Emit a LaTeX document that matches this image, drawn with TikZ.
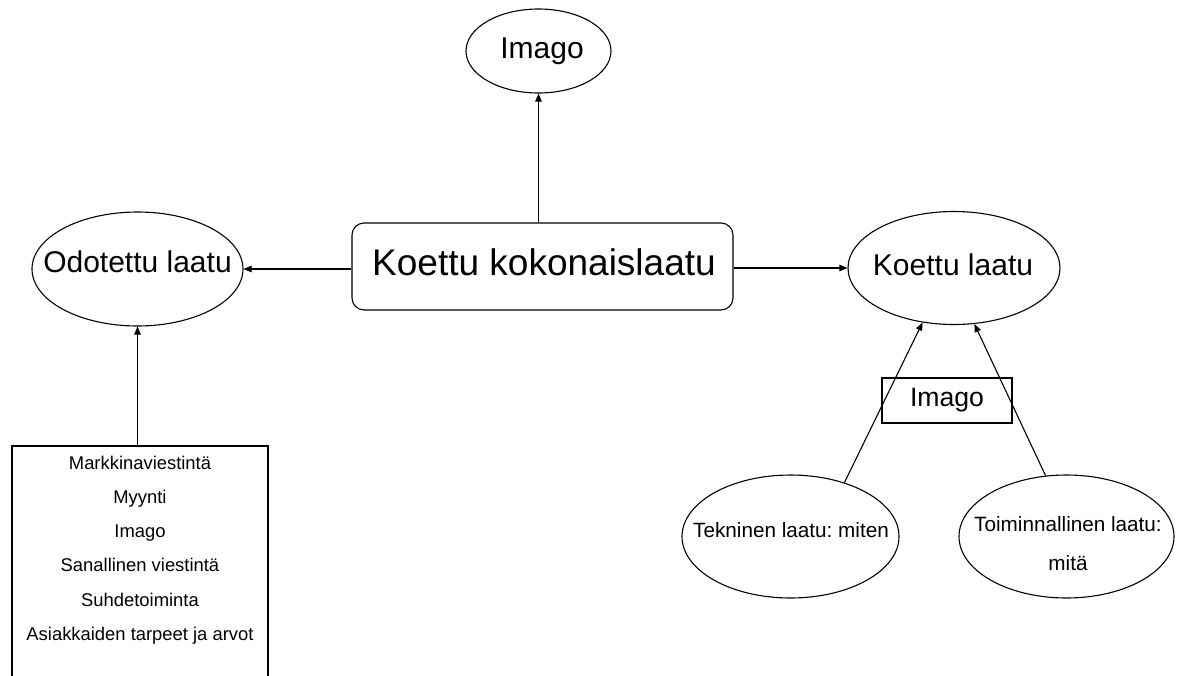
\documentclass[tikz,border=0pt]{standalone}
\usepackage{fontspec}
\setmainfont{Liberation Sans}
\usetikzlibrary{shapes.geometric,arrows.meta}
\frenchspacing
\begin{document}
\begin{tikzpicture}[x=1pt,y=-1pt, line width=1.1pt,
  ell/.style={draw, ellipse, inner sep=0pt},
  txt/.style={inner sep=0pt, align=center},
  arr/.style={-{Triangle[length=8pt,width=6.5pt]}},
  box/.style={draw, rectangle, inner sep=0pt}]
\path[use as bounding box] (0,0) rectangle (1199,675);
\clip (0,0) rectangle (1199,675);
\fill[white] (0,0) rectangle (1199,675);

% top Imago
\node[ell, minimum width=145pt, minimum height=84pt] (imtop) at (538.5,51) {};
\node[txt, font=\fontsize{30}{36}\selectfont] (imtopt) at (542,51) {Imago};

% main rounded rectangle
\node[box, rounded corners=12pt, minimum width=381pt, minimum height=87pt] (main) at (542.5,266.5) {};
\node[txt, font=\fontsize{37}{44}\selectfont] (maint) at (544,262) {Koettu kokonaislaatu};

% left ellipse
\node[ell, minimum width=211pt, minimum height=114pt] (odo) at (137.5,269) {};
\node[txt, font=\fontsize{30}{36}\selectfont] (odot) at (137.5,262) {Odotettu laatu};

% right ellipse
\node[ell, minimum width=212pt, minimum height=113pt] (koe) at (954,268) {};
\node[txt, font=\fontsize{30}{36}\selectfont] (koet) at (953,265) {Koettu laatu};

% list box (open at the bottom, cut by the page)
\node[box, minimum width=256pt, minimum height=240pt] (list) at (140,566) {};
\node[txt, font=\fontsize{18.4}{34.2}\selectfont] (listt) at (140,550) {Markkinaviestintä\\Myynti\\Imago\\Sanallinen viestintä\\Suhdetoiminta\\Asiakkaiden tarpeet ja arvot};

% small Imago box
\node[box, minimum width=130pt, minimum height=45pt, font=\fontsize{26.6}{32}\selectfont] (imbox) at (947,400.5) {Imago};

% bottom ellipses
\node[ell, minimum width=217pt, minimum height=123pt] (tek) at (790.5,536.5) {};
\node[txt, font=\fontsize{20.7}{39}\selectfont] (tekt) at (791,530) {Tekninen laatu: miten};
\node[ell, minimum width=215pt, minimum height=123pt] (toi) at (1066.5,536.5) {};
\node[txt, font=\fontsize{20.7}{39}\selectfont] (toit) at (1068,544) {Toiminnallinen laatu:\\mitä};

% connectors
\draw[arr] (main.north -| imtop.south) -- (imtop.south);
\draw[arr] (main.west |- odo.east) -- (odo.east);
\draw[arr] (main.east |- koe.west) -- (koe.west);
\draw[arr] (list.north -| odo.south) -- (odo.south);
\draw[arr] (tek.45) -- (koe.-120);
\draw[arr] (toi.109) -- (koe.-70);
\end{tikzpicture}
\end{document}
